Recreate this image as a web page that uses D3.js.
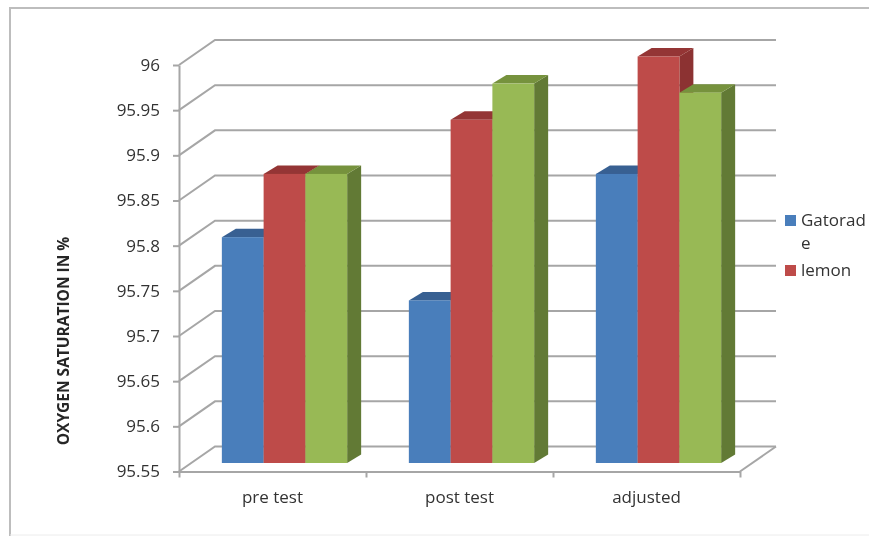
<!DOCTYPE html>
<meta charset="utf-8">
<style>
body { margin: 0; background: #fff; }
text { font-family: "Open Sans", Lato, sans-serif; fill: #333; }
.tick text { font-size: 17px; font-family: "Open Sans", sans-serif; fill: #333; }
.domain, .tick line { stroke: #a6a6a6; stroke-width: 2px; }
</style>
<svg width="869" height="536"></svg>
<script src="https://d3js.org/d3.v7.min.js"></script>
<script>

var categories = ["pre test", "post test", "adjusted"];
var gatorade = [95.8, 95.73, 95.87];
var lemon = [95.87, 95.93, 96];
var third = [95.87, 95.97, 95.96];
var yTicks = [95.55, 95.6, 95.65, 95.7, 95.75, 95.8, 95.85, 95.9, 95.95, 96];

var seriesValues = [gatorade, lemon, third];
var front = ["#4a7ebb", "#be4b48", "#98b954"];
var topCol = ["#376092", "#943634", "#76923c"];
var sideCol = ["#2f5a8c", "#8c3230", "#627a35"];

// 3d offsets: back wall, front of the bar, depth of the bar
var wallX = 36, wallY = -25;
var barX = 12, barY = -8.5;
var depthX = 14, depthY = -8.5;

var svg = d3.select("svg");

svg.append("defs").append("filter").attr("id", "soft")
  .append("feGaussianBlur").attr("stdDeviation", 0.6);

var g = svg.append("g").attr("filter", "url(#soft)");

var line = d3.line();

// outer frame, only top and left are really visible
g.append("path")
  .attr("fill", "none").attr("stroke", "#bdbdbd").attr("stroke-width", 2)
  .attr("d", line([[10, 536], [10, 8], [869, 8]]));
g.append("path")
  .attr("fill", "none").attr("stroke", "#ececec").attr("stroke-width", 1)
  .attr("d", line([[10, 535], [869, 535]]));

var yScale = d3.scaleLinear().domain([95.55, 96]).range([471.5, 65]);
var xScale = d3.scaleBand().domain(categories).range([179, 740]).paddingInner(0.33).paddingOuter(0.165);
var xInner = d3.scaleBand().domain([0, 1, 2]).range([0, xScale.bandwidth()]);
var xTickScale = d3.scaleLinear().domain([0, 3]).range([179, 740]);

// gridlines on side wall and back wall
g.selectAll(".grid")
  .data(yTicks)
  .enter().append("path")
  .attr("class", "grid")
  .attr("fill", "none")
  .attr("stroke", "#a6a6a6")
  .attr("stroke-width", 2)
  .attr("d", function(d) {
    var y = yScale(d);
    return line([[179, y], [179 + wallX, y + wallY], [740 + wallX, y + wallY]]);
  });

// floor edge on the right
g.append("path")
  .attr("fill", "none")
  .attr("stroke", "#a6a6a6")
  .attr("stroke-width", 2)
  .attr("d", line([[740, yScale(95.55)], [740 + wallX, yScale(95.55) + wallY]]));

// Add Y axis:
g.append("g")
  .attr("transform", "translate(179,0)")
  .call(d3.axisLeft(yScale).tickValues(yTicks).tickSize(6).tickPadding(13).tickFormat(d3.format("")).tickSizeOuter(0));

// Add X axis (ticks sit between the categories, labels come after):
g.append("g")
  .attr("transform", "translate(0," + yScale(95.55) + ")")
  .call(d3.axisBottom(xTickScale).ticks(3).tickFormat("").tickSize(6).tickSizeOuter(0));

g.selectAll(".catLabel")
  .data(categories)
  .enter().append("text")
  .attr("class", "catLabel")
  .attr("x", function(d) { return xScale(d) + xScale.bandwidth() / 2; })
  .attr("y", 503)
  .attr("text-anchor", "middle")
  .style("font-size", "17px")
  .text(function(d) { return d; });

// bars, one group per category, drawn left to right
categories.forEach(function(cat, c) {
  seriesValues.forEach(function(vals, s) {
    var x0 = xScale(cat) + xInner(s) + barX;
    var x1 = x0 + xInner.bandwidth();
    var yTop = yScale(vals[c]) + barY;
    var yBase = yScale(95.55) + barY;

    g.append("path").attr("fill", sideCol[s])
      .attr("d", line([[x1, yTop], [x1 + depthX, yTop + depthY], [x1 + depthX, yBase + depthY], [x1, yBase]]) + "Z");
    g.append("path").attr("fill", topCol[s])
      .attr("d", line([[x0, yTop], [x0 + depthX, yTop + depthY], [x1 + depthX, yTop + depthY], [x1, yTop]]) + "Z");
    g.append("rect").attr("fill", front[s])
      .attr("x", x0).attr("y", yTop)
      .attr("width", x1 - x0).attr("height", yBase - yTop);
  });
});

// y title
g.append("text")
  .attr("transform", "translate(69,341) rotate(-90)")
  .attr("text-anchor", "middle")
  .style("font-size", "15.5px")
  .style("font-weight", "bold")
  .style("fill", "#262626")
  .text("OXYGEN SATURATION IN %");

// legend (name wraps in the original)
var legendLines = [["Gatorad", 226], ["e", 249], ["lemon", 276]];
var legendKeys = [[front[0], 215], [front[1], 265]];

g.selectAll(".key")
  .data(legendKeys)
  .enter().append("rect")
  .attr("class", "key")
  .attr("x", 785).attr("y", function(d) { return d[1]; })
  .attr("width", 11).attr("height", 11)
  .attr("fill", function(d) { return d[0]; });

g.selectAll(".legendText")
  .data(legendLines)
  .enter().append("text")
  .attr("class", "legendText")
  .attr("x", 801)
  .attr("y", function(d) { return d[1]; })
  .style("font-size", "17px")
  .text(function(d) { return d[0]; });

</script>
